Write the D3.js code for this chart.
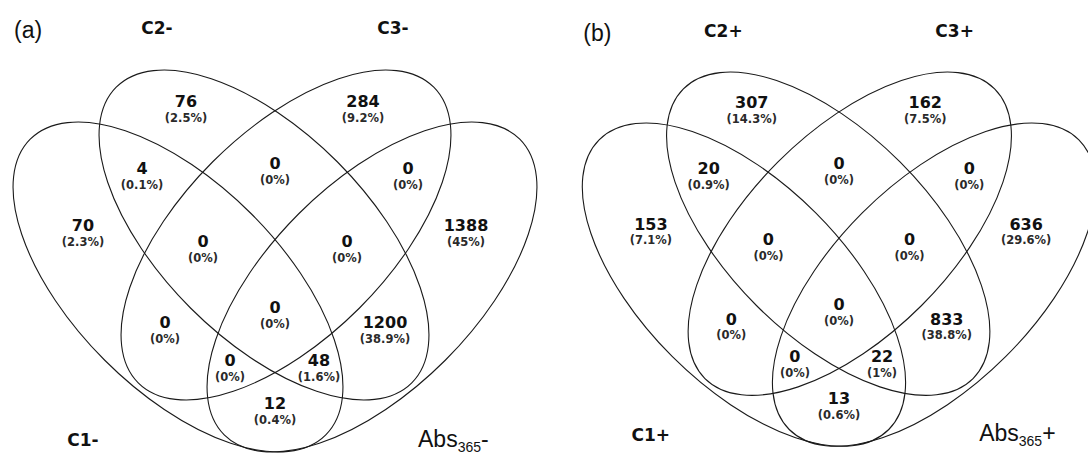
<!DOCTYPE html>
<html>
<head>
<meta charset="utf-8">
<script src="https://cdn.jsdelivr.net/npm/d3@7"></script>
<style>
  html, body { margin: 0; padding: 0; background: #fff; }
  svg { display: block; }
</style>
</head>
<body>
<svg id="chart" width="1088" height="454"></svg>
<script>
// ---------------- data ----------------
const panelTags = ["(a)", "(b)"];
const setNamesA = ["C1-", "C2-", "C3-", "Abs"];
const setNamesB = ["C1+", "C2+", "C3+", "Abs"];
const setSuffixA = "-";
const setSuffixB = "+";
// region keys: A=C1, B=C2, C=C3, D=Abs365
const regionKeys = ["A", "B", "C", "D", "AB", "BC", "CD", "ABC", "BCD", "AC", "BD", "ABCD", "ACD", "ABD", "AD"];
const countsA = [70, 76, 284, 1388, 4, 0, 0, 0, 0, 0, 1200, 0, 0, 48, 12];
const pctA    = [2.3, 2.5, 9.2, 45, 0.1, 0, 0, 0, 0, 0, 38.9, 0, 0, 1.6, 0.4];
const countsB = [153, 307, 162, 636, 20, 0, 0, 0, 0, 0, 833, 0, 0, 22, 13];
const pctB    = [7.1, 14.3, 7.5, 29.6, 0.9, 0, 0, 0, 0, 0, 38.8, 0, 0, 1, 0.6];

// ---------------- layout (local units, symmetry axis at 0) ----------------
const ellipseDefs = [
  { key: "A", cx: -97, cy: 287, rot: 45 },
  { key: "B", cx: -11, cy: 235, rot: 45 },
  { key: "C", cx: 11,  cy: 235, rot: -45 },
  { key: "D", cx: 97,  cy: 287, rot: -45 }
];
const ellRx = 209, ellRy = 103.6;
const labelPos = {
  A: [-192, 225], B: [-89, 101], C: [88, 101], D: [191, 225],
  AB: [-133, 168], BC: [0, 163], CD: [133, 168],
  ABC: [-72, 241], BCD: [72, 241],
  AC: [-110, 322], BD: [110, 322],
  ABCD: [0, 307],
  ACD: [-45, 360], ABD: [44, 360],
  AD: [0, 403]
};

const panels = [
  { tag: panelTags[0], names: setNamesA, suffix: setSuffixA, counts: countsA, pcts: pctA, ox: 275, oy: 0, k: 1 },
  { tag: panelTags[1], names: setNamesB, suffix: setSuffixB, counts: countsB, pcts: pctB, ox: 839, oy: 3.4, k: 0.98 }
];

const svg = d3.select("#chart");
const numFont = "'DejaVu Sans', Verdana, sans-serif";
const tagFont = "'Liberation Sans', Arial, sans-serif";

panels.forEach(p => {
  const x = d3.scaleLinear().domain([0, 100]).range([p.ox, p.ox + 100 * p.k]);
  const y = d3.scaleLinear().domain([0, 100]).range([p.oy, p.oy + 100 * p.k]);
  const g = svg.append("g");

  // ellipses
  g.selectAll("ellipse").data(ellipseDefs).join("ellipse")
    .attr("cx", 0).attr("cy", 0)
    .attr("rx", ellRx * p.k).attr("ry", ellRy * p.k)
    .attr("transform", d => `translate(${x(d.cx)},${y(d.cy)}) rotate(${d.rot})`)
    .attr("fill", "none")
    .attr("stroke", "#1a1a1a")
    .attr("stroke-width", 1.1);

  // region labels
  const regions = regionKeys.map((key, i) => ({ key, count: p.counts[i], pct: p.pcts[i] }));
  g.selectAll("text.num").data(regions).join("text")
    .attr("class", "num")
    .attr("x", d => x(labelPos[d.key][0]))
    .attr("y", d => y(labelPos[d.key][1]) + 5.6)
    .attr("text-anchor", "middle")
    .attr("font-family", numFont)
    .attr("font-weight", "bold")
    .attr("font-size", 16)
    .attr("fill", "#111")
    .text(d => d.count);
  g.selectAll("text.pct").data(regions).join("text")
    .attr("class", "pct")
    .attr("x", d => x(labelPos[d.key][0]))
    .attr("y", d => y(labelPos[d.key][1]) + 16.5 + 4)
    .attr("text-anchor", "middle")
    .attr("font-family", numFont)
    .attr("font-weight", "bold")
    .attr("font-size", 11.5)
    .attr("fill", "#2a2a2a")
    .text(d => `(${d.pct}%)`);

  // category labels
  const catPos = [[-192, 440], [-118, 28], [118, 28]];
  [0, 1, 2].forEach(i => {
    g.append("text")
      .attr("x", x(catPos[i][0]))
      .attr("y", y(catPos[i][1]) + 6)
      .attr("text-anchor", "middle")
      .attr("font-family", numFont)
      .attr("font-weight", "bold")
      .attr("font-size", 17)
      .attr("fill", "#111")
      .text(p.names[i]);
  });
  const abs = g.append("text")
    .attr("x", x(143))
    .attr("y", y(447))
    .attr("font-family", tagFont)
    .attr("font-size", 23)
    .attr("fill", "#111");
  abs.append("tspan").text(p.names[3]);
  abs.append("tspan").attr("font-size", 14).attr("dy", 5).text("365");
  abs.append("tspan").attr("dy", -5).text(p.suffix);

  // panel tag
  g.append("text")
    .attr("x", x(-261))
    .attr("y", y(32) + 6)
    .attr("font-family", tagFont)
    .attr("font-size", 23)
    .attr("fill", "#111")
    .text(p.tag);
});
</script>
</body>
</html>
